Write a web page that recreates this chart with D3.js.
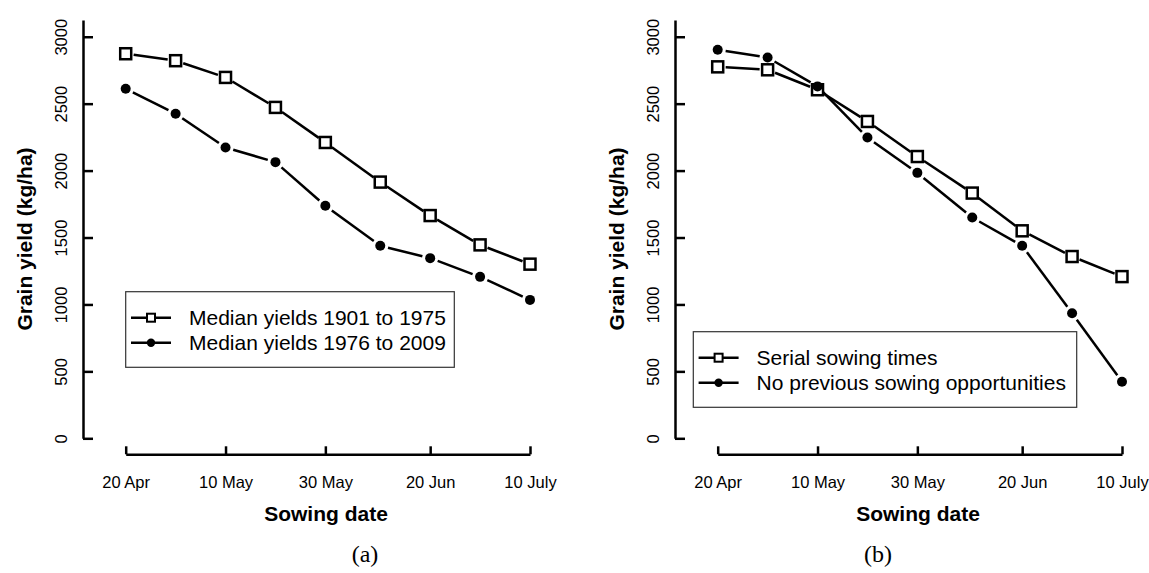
<!DOCTYPE html>
<html>

<head>
  <title>Grain yield vs sowing date</title>
  <meta charset="utf-8">
  <script src="https://d3js.org/d3.v7.min.js"></script>
  <style type="text/css">
    body {
      margin: 0;
      background: #fff;
    }

    text {
      font-family: "Liberation Sans", Arial, sans-serif;
      fill: #000;
    }

    .axis path,
    .axis line {
      stroke: #000;
      stroke-width: 2.5px;
    }

    .axis text {
      font-size: 16.5px;
    }

    .title {
      font-size: 21px;
      font-weight: bold;
    }

    .caption {
      font-family: "Liberation Serif", "Times New Roman", serif;
      font-size: 24px;
    }

    .legend text {
      font-size: 21px;
    }
  </style>
</head>

<body>

  <svg id="chart"></svg>

  <script>
    // sowing dates (same for both panels)
    var sowingDates = ["2001-04-20", "2001-04-30", "2001-05-10", "2001-05-20", "2001-05-30",
      "2001-06-10", "2001-06-20", "2001-06-30", "2001-07-10"];
    var tickDates = ["2001-04-20", "2001-05-10", "2001-05-30", "2001-06-20", "2001-07-10"];
    var tickLabels = ["20 Apr", "10 May", "30 May", "20 Jun", "10 July"];
    var yTicks = [0, 500, 1000, 1500, 2000, 2500, 3000];

    // panel (a)
    var yieldsOld = [2873, 2821, 2696, 2472, 2210, 1914, 1664, 1445, 1301];
    var yieldsNew = [2611, 2425, 2173, 2063, 1737, 1438, 1346, 1206, 1034];
    var legendA = ["Median yields 1901 to 1975", "Median yields 1976 to 2009"];

    // panel (b)
    var serialSowing = [2775, 2753, 2604, 2367, 2105, 1832, 1550, 1358, 1208];
    var noPrevious = [2903, 2845, 2629, 2247, 1983, 1649, 1438, 934, 423];
    var legendB = ["Serial sowing times", "No previous sowing opportunities"];

    var parse = d3.utcParse("%Y-%m-%d");

    var svg = d3.select("#chart")
      .attr("width", 1149)
      .attr("height", 573);

    function drawPanel(offsetX, squares, circles, labels, legendPos, caption, captionX) {
      var g = svg.append("g").attr("transform", "translate(" + offsetX + ",0)");

      var x = d3.scaleUtc()
        .domain([parse(tickDates[0]), parse(tickDates[tickDates.length - 1])])
        .range([125.7, 530]);

      var y = d3.scaleLinear()
        .domain([0, 3125])
        .range([438.3, 20]);

      // x axis, ticks pointing up
      var xAxis = d3.axisBottom(x)
        .tickValues(tickDates.map(parse))
        .tickFormat(function (d, i) { return tickLabels[i]; })
        .tickSize(-8)
        .tickSizeOuter(0)
        .tickPadding(22);
      g.append("g")
        .attr("class", "x axis")
        .attr("transform", "translate(0,454.3)")
        .call(xAxis);

      // y axis, ticks pointing right, rotated labels
      var yAxis = d3.axisLeft(y)
        .tickValues(yTicks)
        .tickFormat(d3.format("d"))
        .tickSize(-10)
        .tickSizeOuter(0);
      g.append("g")
        .attr("class", "y axis")
        .attr("transform", "translate(83,0)")
        .call(yAxis);
      g.selectAll(".y.axis text")
        .attr("x", 0)
        .attr("dy", "0.35em")
        .attr("text-anchor", "middle")
        .attr("transform", "translate(-22,0) rotate(-90)");

      // axis titles
      g.append("text")
        .attr("class", "title")
        .attr("text-anchor", "middle")
        .attr("transform", "translate(25,239) rotate(-90)")
        .attr("dy", "0.35em")
        .text("Grain yield (kg/ha)");

      g.append("text")
        .attr("class", "title")
        .attr("text-anchor", "middle")
        .attr("x", 326)
        .attr("y", 521)
        .text("Sowing date");

      svg.append("text")
        .attr("class", "caption")
        .attr("text-anchor", "middle")
        .attr("x", captionX)
        .attr("y", 562)
        .text(caption);

      // series: lines with gaps around the points (R type = "b")
      var gap = 8;
      function drawSeries(values, shape) {
        var pts = values.map(function (v, i) { return [x(parse(sowingDates[i])), y(v)]; });
        for (var i = 0; i < pts.length - 1; i++) {
          var p0 = pts[i], p1 = pts[i + 1];
          var dx = p1[0] - p0[0], dy = p1[1] - p0[1];
          var len = Math.sqrt(dx * dx + dy * dy);
          if (len <= 2 * gap) continue;
          var ux = dx / len, uy = dy / len;
          g.append("line")
            .attr("x1", p0[0] + ux * gap).attr("y1", p0[1] + uy * gap)
            .attr("x2", p1[0] - ux * gap).attr("y2", p1[1] - uy * gap)
            .attr("stroke", "#000")
            .attr("stroke-width", 2.5);
        }
        if (shape === "square") {
          g.selectAll(null).data(pts).enter().append("rect")
            .attr("x", function (d) { return d[0] - 5.5; })
            .attr("y", function (d) { return d[1] - 5.5; })
            .attr("width", 11).attr("height", 11)
            .attr("fill", "#fff").attr("stroke", "#000").attr("stroke-width", 2.5);
        } else {
          g.selectAll(null).data(pts).enter().append("circle")
            .attr("cx", function (d) { return d[0]; })
            .attr("cy", function (d) { return d[1]; })
            .attr("r", 5)
            .attr("fill", "#000");
        }
      }
      drawSeries(squares, "square");
      drawSeries(circles, "circle");

      // legend
      var lg = g.append("g").attr("class", "legend");
      lg.append("rect")
        .attr("x", legendPos.x).attr("y", legendPos.y)
        .attr("width", legendPos.w).attr("height", 75.6)
        .attr("fill", "#fff").attr("stroke", "#333").attr("stroke-width", 1.2);
      labels.forEach(function (label, i) {
        var cy = legendPos.y + 26 + i * 25;
        var lx = legendPos.x + 5.3;
        lg.append("line")
          .attr("x1", lx).attr("x2", lx + 40)
          .attr("y1", cy).attr("y2", cy)
          .attr("stroke", "#000").attr("stroke-width", 2.5);
        if (i === 0) {
          lg.append("rect")
            .attr("x", lx + 20 - 4).attr("y", cy - 4)
            .attr("width", 8).attr("height", 8)
            .attr("fill", "#fff").attr("stroke", "#000").attr("stroke-width", 2);
        } else {
          lg.append("circle")
            .attr("cx", lx + 20).attr("cy", cy).attr("r", 4.2)
            .attr("fill", "#000");
        }
        lg.append("text")
          .attr("x", lx + 58)
          .attr("y", cy)
          .attr("dy", "0.35em")
          .text(label);
      });
    }

    drawPanel(0, yieldsOld, yieldsNew, legendA, { x: 125.7, y: 291.7, w: 328.6 }, "(a)", 365);
    drawPanel(592, serialSowing, noPrevious, legendB, { x: 101.3, y: 331.7, w: 383.4 }, "(b)", 878);
  </script>
</body>

</html>
